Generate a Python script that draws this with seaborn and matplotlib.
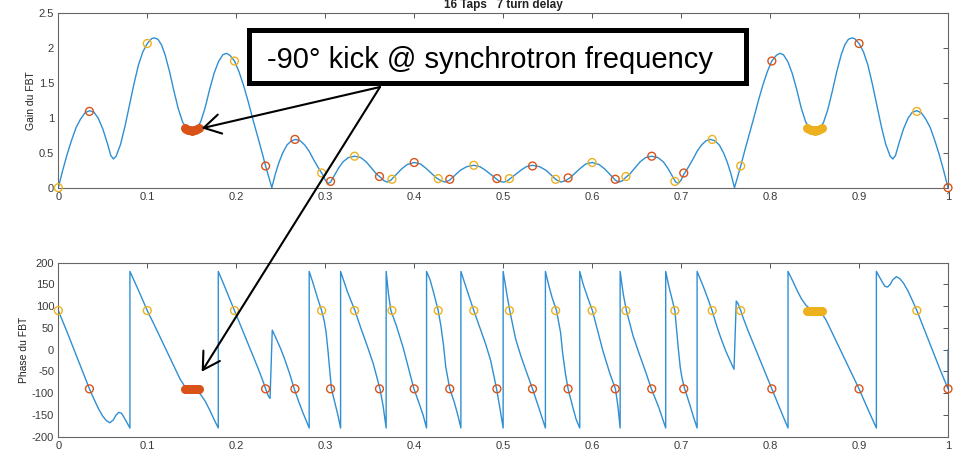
import matplotlib
matplotlib.use('Agg')
import matplotlib.pyplot as plt
import seaborn as sns
from matplotlib.patches import Rectangle, FancyArrowPatch

# ── Données ──────────────────────────────────────────────────────────
freq_gain = [
    0.000, 0.005, 0.010, 0.015, 0.020, 0.025, 0.030, 0.035, 0.040, 0.045,
    0.050, 0.055, 0.059, 0.062, 0.065, 0.070, 0.075, 0.080, 0.085, 0.090,
    0.095, 0.100, 0.105, 0.108, 0.112, 0.116, 0.120, 0.125, 0.130, 0.135,
    0.140, 0.145, 0.150, 0.155, 0.160, 0.165, 0.170, 0.175, 0.180, 0.185,
    0.189, 0.193, 0.198, 0.203, 0.208, 0.213, 0.218, 0.223, 0.228, 0.233,
    0.237, 0.240, 0.244, 0.248, 0.252, 0.257, 0.262, 0.267, 0.272, 0.277,
    0.282, 0.287, 0.292, 0.297, 0.300, 0.303, 0.306, 0.310, 0.315, 0.320,
    0.326, 0.333, 0.340, 0.346, 0.352, 0.358, 0.362, 0.366, 0.370, 0.374,
    0.380, 0.386, 0.392, 0.400, 0.407, 0.413, 0.419, 0.425, 0.430, 0.435,
    0.440, 0.446, 0.452, 0.459, 0.467, 0.474, 0.480, 0.486, 0.492, 0.496,
    0.500, 0.504, 0.508, 0.514, 0.520, 0.526, 0.533, 0.541, 0.548, 0.554,
    0.560, 0.565, 0.570, 0.575, 0.581, 0.587, 0.593, 0.600, 0.608, 0.614,
    0.620, 0.626, 0.630, 0.634, 0.638, 0.642, 0.648, 0.654, 0.660, 0.667,
    0.674, 0.680, 0.685, 0.690, 0.694, 0.697, 0.700, 0.703, 0.708, 0.713,
    0.718, 0.723, 0.728, 0.733, 0.738, 0.743, 0.748, 0.752, 0.756, 0.760,
    0.763, 0.767, 0.772, 0.777, 0.782, 0.787, 0.792, 0.797, 0.802, 0.807,
    0.811, 0.815, 0.820, 0.825, 0.830, 0.835, 0.840, 0.845, 0.850, 0.855,
    0.860, 0.865, 0.870, 0.875, 0.880, 0.884, 0.888, 0.892, 0.895, 0.900,
    0.905, 0.910, 0.915, 0.920, 0.925, 0.930, 0.935, 0.938, 0.941, 0.945,
    0.950, 0.955, 0.960, 0.965, 0.970, 0.975, 0.980, 0.985, 0.990, 0.995,
    1.000,
]
gain = [
    0.00, 0.25, 0.48, 0.68, 0.86, 0.98, 1.07, 1.10, 1.08, 0.99,
    0.84, 0.64, 0.46, 0.41, 0.45, 0.62, 0.88, 1.18, 1.48, 1.75,
    1.94, 2.06, 2.13, 2.14, 2.12, 2.04, 1.90, 1.66, 1.38, 1.12,
    0.93, 0.84, 0.81, 0.84, 0.94, 1.14, 1.40, 1.63, 1.80, 1.90,
    1.92, 1.89, 1.81, 1.66, 1.47, 1.25, 1.01, 0.78, 0.55, 0.31,
    0.13, 0.00, 0.20, 0.36, 0.49, 0.61, 0.67, 0.69, 0.67, 0.61,
    0.52, 0.40, 0.29, 0.19, 0.11, 0.06, 0.08, 0.17, 0.28, 0.37,
    0.43, 0.45, 0.43, 0.37, 0.28, 0.19, 0.15, 0.10, 0.08, 0.11,
    0.19, 0.27, 0.33, 0.36, 0.34, 0.28, 0.21, 0.14, 0.10, 0.08,
    0.11, 0.18, 0.25, 0.30, 0.32, 0.30, 0.25, 0.19, 0.13, 0.09,
    0.08, 0.09, 0.13, 0.19, 0.25, 0.30, 0.32, 0.30, 0.25, 0.18,
    0.11, 0.08, 0.10, 0.14, 0.21, 0.28, 0.34, 0.36, 0.33, 0.27,
    0.19, 0.11, 0.08, 0.10, 0.15, 0.19, 0.28, 0.37, 0.43, 0.45,
    0.43, 0.37, 0.28, 0.17, 0.08, 0.06, 0.11, 0.19, 0.29, 0.40,
    0.52, 0.61, 0.67, 0.69, 0.67, 0.61, 0.49, 0.36, 0.20, 0.00,
    0.13, 0.31, 0.55, 0.78, 1.01, 1.25, 1.47, 1.66, 1.81, 1.89,
    1.92, 1.90, 1.80, 1.63, 1.40, 1.14, 0.94, 0.84, 0.81, 0.84,
    0.93, 1.12, 1.38, 1.66, 1.90, 2.04, 2.12, 2.14, 2.13, 2.06,
    1.94, 1.75, 1.48, 1.18, 0.88, 0.62, 0.45, 0.41, 0.46, 0.64,
    0.84, 0.99, 1.08, 1.10, 1.07, 0.98, 0.86, 0.68, 0.48, 0.25,
    0.00,
]

# phase (deg) ; les sauts ±180 sont des paires de points au même x
freq_phase = [
    0.000, 0.000, 0.010, 0.020, 0.030, 0.035, 0.040, 0.045, 0.050, 0.054,
    0.058, 0.062, 0.065, 0.068, 0.071, 0.074, 0.077, 0.0805, 0.0805, 0.090,
    0.100, 0.110, 0.120, 0.130, 0.137, 0.142, 0.146, 0.150, 0.155, 0.160,
    0.165, 0.170, 0.175, 0.1798, 0.1798, 0.185, 0.190, 0.198, 0.205, 0.210,
    0.215, 0.220, 0.225, 0.230, 0.233, 0.236, 0.238, 0.2405, 0.245, 0.250,
    0.255, 0.260, 0.2652, 0.270, 0.275, 0.282, 0.282, 0.286, 0.290, 0.294,
    0.296, 0.299, 0.301, 0.303, 0.305, 0.307, 0.310, 0.314, 0.3173, 0.3173,
    0.325, 0.3334, 0.340, 0.347, 0.354, 0.3615, 0.365, 0.3685, 0.3685, 0.371,
    0.3738, 0.380, 0.3877, 0.394, 0.3997, 0.405, 0.410, 0.4139, 0.4139, 0.418,
    0.422, 0.427, 0.430, 0.433, 0.4355, 0.440, 0.445, 0.449, 0.4525, 0.4525,
    0.460, 0.467, 0.474, 0.480, 0.486, 0.4926, 0.496, 0.500, 0.500, 0.504,
    0.5074, 0.514, 0.520, 0.526, 0.533, 0.540, 0.5475, 0.5475, 0.551, 0.555,
    0.560, 0.5645, 0.567, 0.570, 0.573, 0.578, 0.582, 0.5861, 0.5861, 0.590,
    0.595, 0.6003, 0.606, 0.6123, 0.620, 0.6262, 0.629, 0.6315, 0.6315, 0.635,
    0.6385, 0.646, 0.653, 0.660, 0.6666, 0.675, 0.6827, 0.6827, 0.686, 0.690,
    0.693, 0.695, 0.697, 0.699, 0.701, 0.704, 0.706, 0.710, 0.714, 0.718,
    0.718, 0.725, 0.730, 0.7348, 0.740, 0.745, 0.750, 0.755, 0.7595, 0.762,
    0.764, 0.767, 0.770, 0.775, 0.780, 0.785, 0.790, 0.795, 0.802, 0.810,
    0.815, 0.8202, 0.8202, 0.825, 0.830, 0.835, 0.840, 0.845, 0.850, 0.854,
    0.858, 0.863, 0.870, 0.880, 0.890, 0.900, 0.910, 0.9195, 0.9195, 0.923,
    0.926, 0.929, 0.932, 0.935, 0.938, 0.942, 0.946, 0.950, 0.955, 0.960,
    0.965, 0.970, 0.980, 0.990, 1.000, 1.000,
]
phase = [
    0, 90, 40, -12, -64, -90, -113, -135, -153, -163,
    -168, -161, -150, -144, -146, -156, -167, -180, 180, 137,
    90, 48, 5, -38, -68, -84, -89, -91, -94, -103,
    -118, -138, -160, -180, 180, 155, 130, 90, 55, 30,
    5, -20, -45, -72, -90, -106, -112, 45, 25, 2,
    -25, -55, -90, -118, -145, -180, 180, 155, 128, 102,
    90, 65, 40, 0, -45, -90, -115, -148, -180, 180,
    133, 90, 50, 10, -32, -90, -128, -180, 180, 130,
    90, 55, 4, -45, -90, -120, -150, -180, 180, 160,
    130, 90, 55, 10, -40, -90, -120, -150, -180, 180,
    133, 90, 50, 15, -25, -90, -130, -180, 180, 130,
    90, 25, -15, -50, -90, -133, -180, 180, 150, 120,
    90, 40, -10, -55, -90, -130, -160, -180, 180, 150,
    120, 90, 45, -4, -55, -90, -130, -180, 180, 128,
    90, 32, -10, -50, -90, -133, -180, 180, 148, 115,
    90, 45, 0, -40, -65, -90, -102, -128, -155, -180,
    180, 145, 118, 90, 55, 25, -2, -25, -45, 112,
    106, 90, 72, 45, 20, -5, -30, -55, -90, -130,
    -155, -180, 180, 160, 138, 118, 103, 94, 91, 89,
    84, 68, 38, -5, -48, -90, -137, -180, 180, 167,
    156, 146, 144, 150, 161, 168, 163, 153, 135, 113,
    90, 64, 12, -40, -90, 0,
]

# points où la phase vaut -90° (rouge) et +90° (jaune)
red_x = [0.035, 0.233, 0.266, 0.306, 0.361, 0.400, 0.440, 0.493,
         0.533, 0.573, 0.626, 0.667, 0.703, 0.802, 0.900, 1.000]
red_gain = [1.09, 0.31, 0.69, 0.09, 0.16, 0.36, 0.12, 0.13,
            0.31, 0.14, 0.12, 0.45, 0.21, 1.81, 2.06, 0.00]
yellow_x = [0.000, 0.100, 0.198, 0.296, 0.333, 0.375, 0.427, 0.467,
            0.507, 0.559, 0.600, 0.638, 0.693, 0.735, 0.767, 0.965]
yellow_gain = [0.00, 2.06, 1.81, 0.21, 0.45, 0.12, 0.13, 0.32,
               0.13, 0.12, 0.36, 0.16, 0.09, 0.69, 0.31, 1.09]
red_phase = -90
yellow_phase = 90

# fréquence synchrotron (zone remplie)
blob_red_x = [0.142, 0.144, 0.146, 0.148, 0.150, 0.152, 0.154, 0.156, 0.158]
blob_yellow_x = [0.842, 0.844, 0.846, 0.848, 0.850, 0.852, 0.854, 0.856, 0.858]
blob_gain = [0.86, 0.84, 0.83, 0.82, 0.81, 0.82, 0.83, 0.84, 0.86]

title = '16 Taps   7 turn delay'
note = '-90° kick @ synchrotron frequency'

BLUE = '#2f8fd2'
RED = '#D95319'
YELLOW = '#EDB120'
TXT = '#3a3a3a'

# ── Figure ───────────────────────────────────────────────────────────
sns.set_style('white')
plt.rcParams['font.family'] = ['Liberation Sans', 'DejaVu Sans']

W, H = 961, 462
fig = plt.figure(figsize=(W / 100, H / 100), dpi=100)
ax1 = fig.add_axes([58.3 / W, 1 - 187.7 / H, 889.7 / W, 175 / H])
ax2 = fig.add_axes([58.3 / W, 1 - 436.7 / H, 889.7 / W, 174 / H])


def style_axes(ax, yticks, ylabels, ylabel):
    ax.set_xlim(0, 1)
    ax.set_ylim(yticks[0], yticks[-1])
    ax.set_xticks([i / 10 for i in range(11)])
    ax.set_xticklabels(['0'] + ['0.%d' % i for i in range(1, 10)] + ['1'])
    ax.set_yticks(yticks)
    ax.set_yticklabels(ylabels)
    ax.tick_params(direction='in', top=True, right=True, length=3.5,
                   width=0.7, colors='#555555', labelcolor=TXT, labelsize=8,
                   pad=3)
    for sp in ax.spines.values():
        sp.set_color('#666666')
        sp.set_linewidth(0.8)
    ax.set_ylabel(ylabel, fontsize=7.5, color='#222222', labelpad=2)
    ax.set_xlabel('')


# gain
sns.lineplot(x=freq_gain, y=gain, ax=ax1, color=BLUE, linewidth=1.0,
             estimator=None, sort=False)
sns.scatterplot(x=blob_red_x, y=blob_gain, ax=ax1, color=RED, edgecolor=RED,
                s=32, linewidth=0.8, zorder=3)
sns.scatterplot(x=blob_yellow_x, y=blob_gain, ax=ax1, color=YELLOW,
                edgecolor=YELLOW, s=32, linewidth=0.8, zorder=3)
sns.scatterplot(x=red_x, y=red_gain, ax=ax1, facecolor='none', edgecolor=RED,
                s=32, linewidth=1.0, zorder=3, clip_on=False)
sns.scatterplot(x=yellow_x, y=yellow_gain, ax=ax1, facecolor='none',
                edgecolor=YELLOW, s=32, linewidth=1.0, zorder=3, clip_on=False)
style_axes(ax1, [0, 0.5, 1, 1.5, 2, 2.5],
           ['0', '0.5', '1', '1.5', '2', '2.5'], 'Gain du FBT')

# phase
sns.lineplot(x=freq_phase, y=phase, ax=ax2, color=BLUE, linewidth=1.0,
             estimator=None, sort=False)
sns.scatterplot(x=blob_red_x, y=[red_phase] * len(blob_red_x), ax=ax2,
                color=RED, edgecolor=RED, s=32, linewidth=0.8, zorder=3)
sns.scatterplot(x=blob_yellow_x, y=[yellow_phase] * len(blob_yellow_x), ax=ax2,
                color=YELLOW, edgecolor=YELLOW, s=32, linewidth=0.8, zorder=3)
sns.scatterplot(x=red_x, y=[red_phase] * len(red_x), ax=ax2, facecolor='none',
                edgecolor=RED, s=32, linewidth=1.0, zorder=3, clip_on=False)
sns.scatterplot(x=yellow_x, y=[yellow_phase] * len(yellow_x), ax=ax2,
                facecolor='none', edgecolor=YELLOW, s=32, linewidth=1.0,
                zorder=3, clip_on=False)
ticks_ph = list(range(-200, 201, 50))
style_axes(ax2, ticks_ph, [str(t) for t in ticks_ph], 'Phase du FBT')

# titre (coupé en haut comme sur l'original)
fig.text(503 / W, 1 - 8 / H, title, ha='center', va='baseline',
         fontsize=8.5, fontweight='bold', color='#222222')

# encadré + flèches
fig.add_artist(Rectangle((248.5 / W, 1 - 83 / H), (745.8 - 248.5) / W,
                         (83 - 30.5) / H, transform=fig.transFigure,
                         facecolor='white', edgecolor='black', linewidth=3.6,
                         zorder=10))
fig.text(490 / W, 1 - 68.5 / H, note, ha='center', va='baseline',
         fontsize=21, color='black', zorder=11)

for tip in [(201.7, 128.3), (201.7, 371.7)]:
    arr = FancyArrowPatch((380 / W, 1 - 87 / H), (tip[0] / W, 1 - tip[1] / H),
                          transform=fig.transFigure,
                          arrowstyle='->,head_length=0.6,head_width=0.35',
                          mutation_scale=20, linewidth=1.5, color='black',
                          shrinkA=0, shrinkB=0, zorder=12)
    fig.add_artist(arr)

fig.savefig('out.png', dpi=100)
